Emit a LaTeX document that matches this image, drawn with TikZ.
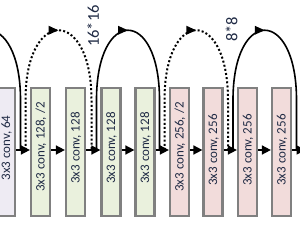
\documentclass[tikz,border=0pt]{standalone}
\usepackage{fontspec}
\setmainfont{Carlito}
\usetikzlibrary{arrows.meta,decorations.markings}
\definecolor{lav}{HTML}{EEEBF3}
\definecolor{grn}{HTML}{EAF1DD}
\definecolor{pnk}{HTML}{F2DCDB}
\definecolor{bord}{HTML}{808080}
\definecolor{ink}{HTML}{1F2A44}
\begin{document}
\begin{tikzpicture}[x=1pt,y=-1pt,
  box/.style={draw=bord, line width=2.2pt, minimum width=19pt, minimum height=128pt, inner sep=0pt},
  txt/.style={rotate=90, font=\fontsize{13}{13}\selectfont, text=ink, inner sep=0pt},
  lbl/.style={rotate=90, font=\fontsize{16.5}{16.5}\selectfont, text=ink, inner sep=0pt},
  arr/.style={line width=1.6pt, -{Triangle[length=9pt,width=9pt]}},
  scbase/.style={line width=1.6pt, postaction={decorate},
    decoration={markings, mark=at position 0.5 with {\arrow{Triangle[length=10pt,width=8.5pt]}}}},
  scsolid/.style={scbase},
  scdot/.style={scbase, line width=2pt, dash pattern=on 2pt off 2.2pt}]
\useasboundingbox (0,0) rectangle (300,232);
\clip (0,0) rectangle (300,232);
% boxes
\node[box, fill=lav] (b1) at (5.5,152) {};
\node[box, fill=grn] (b2) at (40.5,152) {};
\node[box, fill=grn] (b3) at (75.5,152) {};
\node[box, fill=grn] (b4) at (111,152) {};
\node[box, fill=grn] (b5) at (145,152) {};
\node[box, fill=pnk] (b6) at (179.5,152) {};
\node[box, fill=pnk] (b7) at (213,152) {};
\node[box, fill=pnk] (b8) at (247.5,152) {};
\node[box, fill=pnk] (b9) at (281.5,152) {};
% texts
\node[txt] (t1) at (6.5,148) {3x3 conv, 64};
\node[txt] (t2) at (41,147) {3x3 conv, 128, /2};
\node[txt] (t3) at (76,148) {3x3 conv, 128};
\node[txt] (t4) at (111.5,148) {3x3 conv, 128};
\node[txt] (t5) at (145.5,148) {3x3 conv, 128};
\node[txt] (t6) at (180,147) {3x3 conv, 256, /2};
\node[txt] (t7) at (213.5,150) {3x3 conv, 256};
\node[txt] (t8) at (248,150) {3x3 conv, 256};
\node[txt] (t9) at (282,150) {3x3 conv, 256};
% size labels
\node[lbl] (l16) at (93,26) {16*16};
\node[lbl] (l8) at (231.5,29.5) {8*8};
% horizontal arrows
\coordinate (e9) at (305.5,150);
\draw[arr] ([yshift=2pt]b1.east) -- ([yshift=2pt]b2.west);
\draw[arr] ([yshift=2pt]b2.east) -- ([yshift=2pt]b3.west);
\draw[arr] ([yshift=2pt]b3.east) -- ([yshift=2pt]b4.west);
\draw[arr] ([yshift=2pt]b4.east) -- ([yshift=2pt]b5.west);
\draw[arr] ([yshift=2pt]b5.east) -- ([yshift=2pt]b6.west);
\draw[arr] ([yshift=2pt]b6.east) -- ([yshift=2pt]b7.west);
\draw[arr] ([yshift=2pt]b7.east) -- ([yshift=2pt]b8.west);
\draw[arr] ([yshift=2pt]b8.east) -- ([yshift=2pt]b9.west);
\draw[arr] ([yshift=2pt]b9.east) -- (e9);
% shortcut end points
\coordinate (ylo) at (0,100);
\coordinate (yhi) at (0,7);
\coordinate (s1a) at (-43.5,150); \coordinate (s1b) at (20.5,150);
\coordinate (s2a) at (25.5,150);  \coordinate (s2b) at (91.5,150);
\coordinate (s3a) at (96.5,150);  \coordinate (s3b) at (159.5,150);
\coordinate (s4a) at (164.5,150); \coordinate (s4b) at (228,150);
\coordinate (s5a) at (233,150);   \coordinate (s5b) at (296.5,150);
\draw[scsolid] (s1a) -- (s1a |- ylo) .. controls (s1a |- yhi) and (s1b |- yhi) .. (s1b |- ylo) -- (s1b);
\draw[scdot]   (s2a) -- (s2a |- ylo) .. controls (s2a |- yhi) and (s2b |- yhi) .. (s2b |- ylo) -- (s2b);
\draw[scsolid] (s3a) -- (s3a |- ylo) .. controls (s3a |- yhi) and (s3b |- yhi) .. (s3b |- ylo) -- (s3b);
\draw[scdot]   (s4a) -- (s4a |- ylo) .. controls (s4a |- yhi) and (s4b |- yhi) .. (s4b |- ylo) -- (s4b);
\draw[scsolid] (s5a) -- (s5a |- ylo) .. controls (s5a |- yhi) and (s5b |- yhi) .. (s5b |- ylo) -- (s5b);
\end{tikzpicture}
\end{document}
